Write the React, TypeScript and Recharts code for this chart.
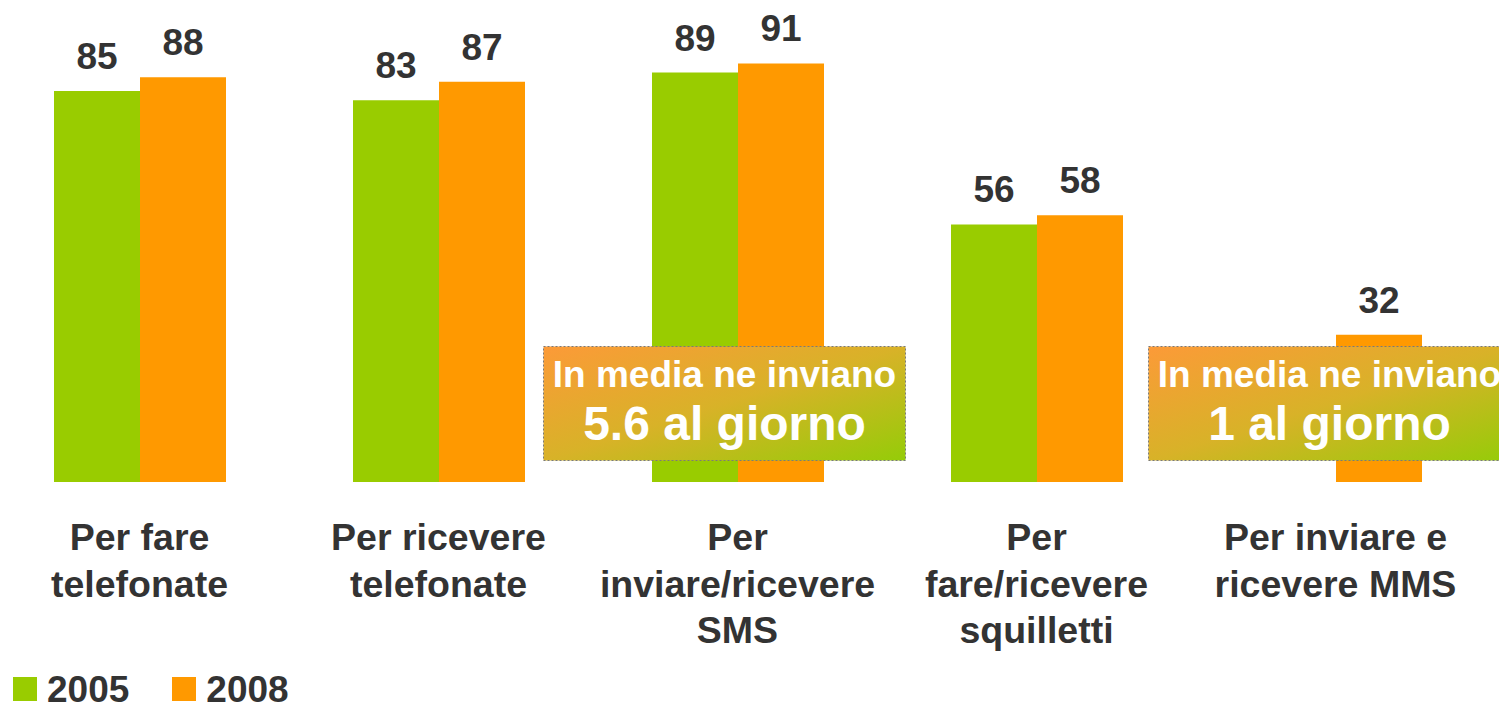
import { BarChart, Bar, XAxis, YAxis, LabelList } from "recharts";

const categories = [
  "Per fare\ntelefonate",
  "Per ricevere\ntelefonate",
  "Per\ninviare/ricevere\nSMS",
  "Per\nfare/ricevere\nsquilletti",
  "Per inviare e\nricevere MMS",
];
const values2005 = [85, 83, 89, 56, null];
const values2008 = [88, 87, 91, 58, 32];
const seriesNames = ["2005", "2008"];
const seriesColors = ["#99CC00", "#FF9900"];
const noteLines = [
  ["In media ne inviano", "5.6 al giorno"],
  ["In media ne inviano", "1 al giorno"],
];

const FONT = '"Liberation Sans", Arial, sans-serif';
const TEXT = "#333333";

const data = categories.map((name, i) => ({
  name,
  y2005: values2005[i],
  y2008: values2008[i],
}));

function CategoryTick(props: any) {
  const { x, y, payload } = props;
  const lines = String(payload.value).split("\n");
  return (
    <text
      x={x}
      y={y}
      textAnchor="middle"
      fill={TEXT}
      fontSize={37.5}
      fontWeight="bold"
      fontFamily={FONT}
    >
      {lines.map((line, i) => (
        <tspan key={i} x={x} dy={i === 0 ? 60 : 46.5}>
          {line}
        </tspan>
      ))}
    </text>
  );
}

function NoteBox({ left, lines }: { left: number; lines: string[] }) {
  const w = 363;
  const h = 115;
  const id = `noteGrad${left}`;
  return (
    <svg
      width={w}
      height={h}
      style={{ position: "absolute", left, top: 346, overflow: "visible" }}
    >
      <defs>
        <linearGradient id={id} x1="0" y1="0" x2="1" y2="1">
          <stop offset="0%" stopColor="#FC9A38" />
          <stop offset="50%" stopColor="#D8B228" />
          <stop offset="100%" stopColor="#95CC08" />
        </linearGradient>
      </defs>
      <rect
        x={0.5}
        y={0.5}
        width={w - 1}
        height={h - 1}
        fill={`url(#${id})`}
        stroke="#7a7a7a"
        strokeWidth={1}
        strokeDasharray="2 2"
      />
      <text
        x={w / 2}
        y={41}
        textAnchor="middle"
        fill="#ffffff"
        fontSize={37}
        fontWeight="bold"
        fontFamily={FONT}
      >
        {lines[0]}
      </text>
      <text
        x={w / 2}
        y={94}
        textAnchor="middle"
        fill="#ffffff"
        fontSize={48}
        fontWeight="bold"
        fontFamily={FONT}
      >
        {lines[1]}
      </text>
    </svg>
  );
}

export default function App() {
  return (
    <div
      style={{
        position: "fixed",
        left: 0,
        top: 0,
        width: 1499,
        height: 702,
        overflow: "hidden",
        background: "#ffffff",
        fontFamily: FONT,
      }}
    >
      <div style={{ position: "absolute", left: -10, top: 0 }}>
        <BarChart
          width={1496}
          height={702}
          data={data}
          margin={{ top: 22, right: 1, left: 0, bottom: 0 }}
          barSize={86}
          barGap={0}
        >
          <XAxis
            dataKey="name"
            axisLine={false}
            tickLine={false}
            height={220}
            interval={0}
            tick={<CategoryTick />}
          />
          <YAxis hide domain={[0, 100]} />
          <Bar dataKey="y2005" fill={seriesColors[0]} isAnimationActive={false}>
            <LabelList
              dataKey="y2005"
              position="top"
              offset={22}
              fill={TEXT}
              fontSize={37}
              fontWeight="bold"
              fontFamily={FONT}
            />
          </Bar>
          <Bar dataKey="y2008" fill={seriesColors[1]} isAnimationActive={false}>
            <LabelList
              dataKey="y2008"
              position="top"
              offset={22}
              fill={TEXT}
              fontSize={37}
              fontWeight="bold"
              fontFamily={FONT}
            />
          </Bar>
        </BarChart>
      </div>

      <NoteBox left={543} lines={noteLines[0]} />
      <NoteBox left={1148} lines={noteLines[1]} />

      <div style={{ position: "absolute", left: 13, top: 677, display: "flex" }}>
        {seriesNames.map((name, i) => (
          <div
            key={name}
            style={{ display: "flex", alignItems: "flex-start", marginRight: 43 }}
          >
            <div
              style={{
                width: 24,
                height: 24,
                background: seriesColors[i],
                marginRight: 10,
              }}
            />
            <div
              style={{
                fontSize: 37,
                fontWeight: "bold",
                color: TEXT,
                lineHeight: "37px",
                marginTop: -6,
              }}
            >
              {name}
            </div>
          </div>
        ))}
      </div>
    </div>
  );
}
